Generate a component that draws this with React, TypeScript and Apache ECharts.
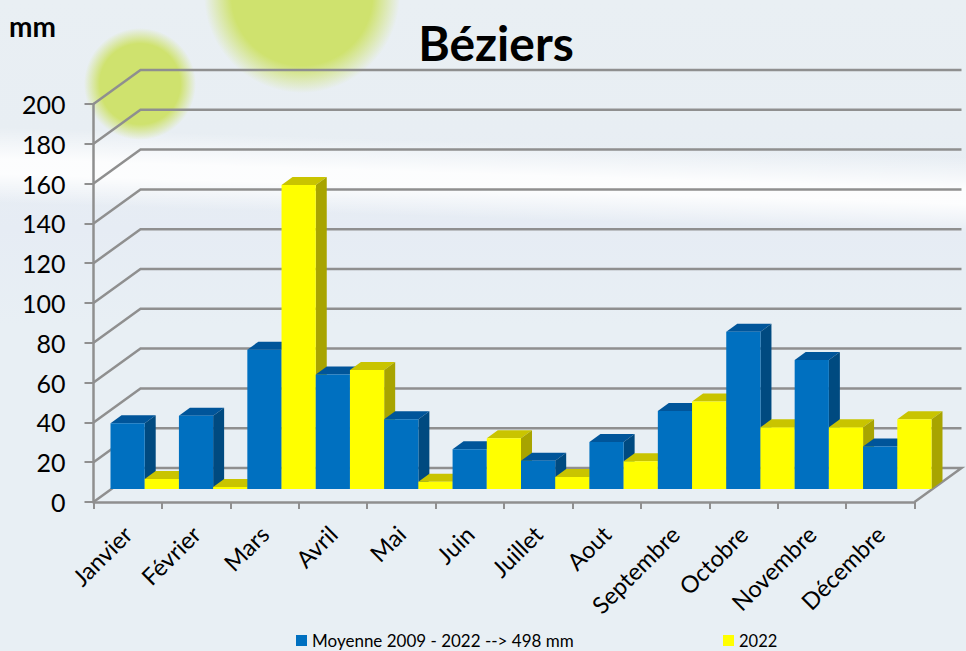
import React, { useEffect, useRef } from "react";
import * as echarts from "echarts";

const months = ["Janvier", "Février", "Mars", "Avril", "Mai", "Juin", "Juillet", "Aout", "Septembre", "Octobre", "Novembre", "Décembre"];
const moyenne = [33, 36.8, 70, 57.6, 35, 20, 14.2, 23.6, 39.2, 79, 64.8, 21.3];
const annee2022 = [5, 1, 152.8, 59.8, 3.7, 25.5, 6, 14, 44, 31, 31, 35];
const yTicks = [0, 20, 40, 60, 80, 100, 120, 140, 160, 180, 200];
const moyenneName = "Moyenne 2009 - 2022 --> 498 mm";
const anneeName = "2022";

const FONT = "Lato, 'Open Sans', sans-serif";
const WALL_DX = 47;
const WALL_DY = -34;
const PLANE_DX = 17;
const PLANE_DY = -13;
const BAR_DX = 11;
const BAR_DY = -8;
const LINE = "#8f8f8f";

function barRenderer(seriesIndex: number, front: string, top: string, side: string) {
  return (_params: any, api: any) => {
    const cat = api.value(0);
    const val = api.value(1);
    const p = api.coord([cat, val]);
    const base = api.coord([cat, 0]);
    const w = api.size([1, 0])[0] / 2;
    const x = p[0] + PLANE_DX + (seriesIndex - 1) * w;
    const y0 = base[1] + PLANE_DY;
    const y = p[1] + PLANE_DY;
    const order = (cat * 2 + seriesIndex) * 2 + 10;
    return {
      type: "group",
      children: [
        {
          type: "polygon",
          z2: order,
          shape: { points: [[x, y], [x + BAR_DX, y + BAR_DY], [x + w + BAR_DX, y + BAR_DY], [x + w, y]] },
          style: { fill: top },
        },
        {
          type: "polygon",
          z2: order,
          shape: { points: [[x + w, y], [x + w + BAR_DX, y + BAR_DY], [x + w + BAR_DX, y0 + BAR_DY], [x + w, y0]] },
          style: { fill: side },
        },
        {
          type: "rect",
          z2: order + 1,
          shape: { x, y, width: w, height: y0 - y },
          style: { fill: front },
        },
      ],
    };
  };
}

function gridRenderer(params: any, api: any) {
  const v = api.value(1);
  const p = api.coord([0, v]);
  const cs = params.coordSys;
  const left = cs.x;
  const right = cs.x + cs.width;
  const points =
    v === 0
      ? [[left, p[1]], [left + WALL_DX, p[1] + WALL_DY], [right + WALL_DX, p[1] + WALL_DY], [right, p[1]]]
      : [[left, p[1]], [left + WALL_DX, p[1] + WALL_DY], [right + WALL_DX, p[1] + WALL_DY]];
  return {
    type: "polyline",
    z2: 1,
    shape: { points },
    style: { stroke: LINE, lineWidth: 2.5, fill: "none" },
  };
}

export default function App() {
  const ref = useRef<HTMLDivElement>(null);
  useEffect(() => {
    const chart = echarts.init(ref.current!, undefined, { renderer: "svg" });
    const softCircle = (color: string) => ({
      type: "radial",
      x: 0.5,
      y: 0.5,
      r: 0.5,
      colorStops: [
        { offset: 0, color },
        { offset: 0.72, color },
        { offset: 1, color: "rgba(208,227,114,0)" },
      ],
    });
    chart.setOption({
      animation: false,
      textStyle: { fontFamily: FONT },
      title: [
        { text: "Béziers", left: 491, top: 13, textAlign: "center", textStyle: { fontSize: 48, fontWeight: "bold", color: "#000", fontFamily: FONT } },
        { text: "mm", left: 9, top: 12, padding: 0, textStyle: { fontSize: 28, fontWeight: "bold", color: "#000", fontFamily: FONT } },
      ],
      graphic: [
        {
          type: "rect",
          z: -4,
          silent: true,
          shape: { x: 0, y: 0, width: 966, height: 651 },
          style: {
            fill: {
              type: "linear", x: 0, y: 0, x2: 0, y2: 1,
              colorStops: [
                { offset: 0, color: "#e9eff3" },
                { offset: 0.2, color: "#e8eef3" },
                { offset: 0.35, color: "#e6ecf4" },
                { offset: 0.5, color: "#e8eff4" },
                { offset: 1, color: "#e8eff4" },
              ],
            },
          },
        },
        {
          type: "rect",
          z: -3,
          silent: true,
          x: 483,
          y: 180,
          rotation: -0.031,
          shape: { x: -600, y: -38, width: 1200, height: 76 },
          style: {
            fill: {
              type: "linear", x: 0, y: 0, x2: 0, y2: 1,
              colorStops: [
                { offset: 0, color: "rgba(255,255,255,0)" },
                { offset: 0.42, color: "rgba(255,255,255,0.88)" },
                { offset: 0.62, color: "rgba(255,255,255,0.88)" },
                { offset: 1, color: "rgba(255,255,255,0)" },
              ],
            },
          },
        },
        { type: "circle", z: -2, silent: true, shape: { cx: 140, cy: 84, r: 56 }, style: { fill: softCircle("#cfe26e") } },
        { type: "circle", z: -2, silent: true, shape: { cx: 302, cy: -5, r: 98 }, style: { fill: softCircle("#cfe26e") } },
      ],
      legend: [
        {
          left: 296, top: 632, itemWidth: 11, itemHeight: 11, itemGap: 5, icon: "rect", padding: 0,
          data: [moyenneName], textStyle: { fontSize: 17, color: "#000", fontFamily: FONT },
        },
        {
          left: 723, top: 632, itemWidth: 11, itemHeight: 11, itemGap: 5, icon: "rect", padding: 0,
          data: [anneeName], textStyle: { fontSize: 16.5, color: "#000", fontFamily: FONT },
        },
      ],
      grid: { left: 93.5, right: 51.5, top: 104, bottom: 149 },
      xAxis: {
        type: "category",
        data: months,
        boundaryGap: true,
        axisLine: { lineStyle: { color: LINE, width: 2.5 } },
        axisTick: { show: true, length: 7, alignWithLabel: false, lineStyle: { color: LINE, width: 2 } },
        axisLabel: { rotate: 45, interval: 0, fontSize: 23.5, color: "#000", margin: 28, fontFamily: FONT },
      },
      yAxis: {
        type: "value",
        min: 0,
        max: 200,
        interval: 20,
        splitLine: { show: false },
        axisLine: { show: true, lineStyle: { color: LINE, width: 2.5 } },
        axisTick: { show: true, length: 9, lineStyle: { color: LINE, width: 2 } },
        axisLabel: { fontSize: 25, color: "#000", margin: 28, fontFamily: FONT },
      },
      series: [
        {
          type: "custom",
          name: "grille",
          renderItem: gridRenderer,
          encode: { x: 0, y: 1 },
          data: yTicks.map((v) => [0, v]),
          silent: true,
          z: 1,
        },
        {
          type: "custom",
          name: moyenneName,
          renderItem: barRenderer(0, "#0070c0", "#00559a", "#004a80"),
          encode: { x: 0, y: 1 },
          itemStyle: { color: "#0070c0" },
          data: moyenne.map((v, i) => [i, v]),
          z: 2,
        },
        {
          type: "custom",
          name: anneeName,
          renderItem: barRenderer(1, "#ffff00", "#c9c400", "#a8a400"),
          encode: { x: 0, y: 1 },
          itemStyle: { color: "#ffff00" },
          data: annee2022.map((v, i) => [i, v]),
          z: 2,
        },
      ],
    });
    return () => chart.dispose();
  }, []);
  return <div ref={ref} style={{ position: "absolute", left: 0, top: 0, width: 966, height: 651 }} />;
}
